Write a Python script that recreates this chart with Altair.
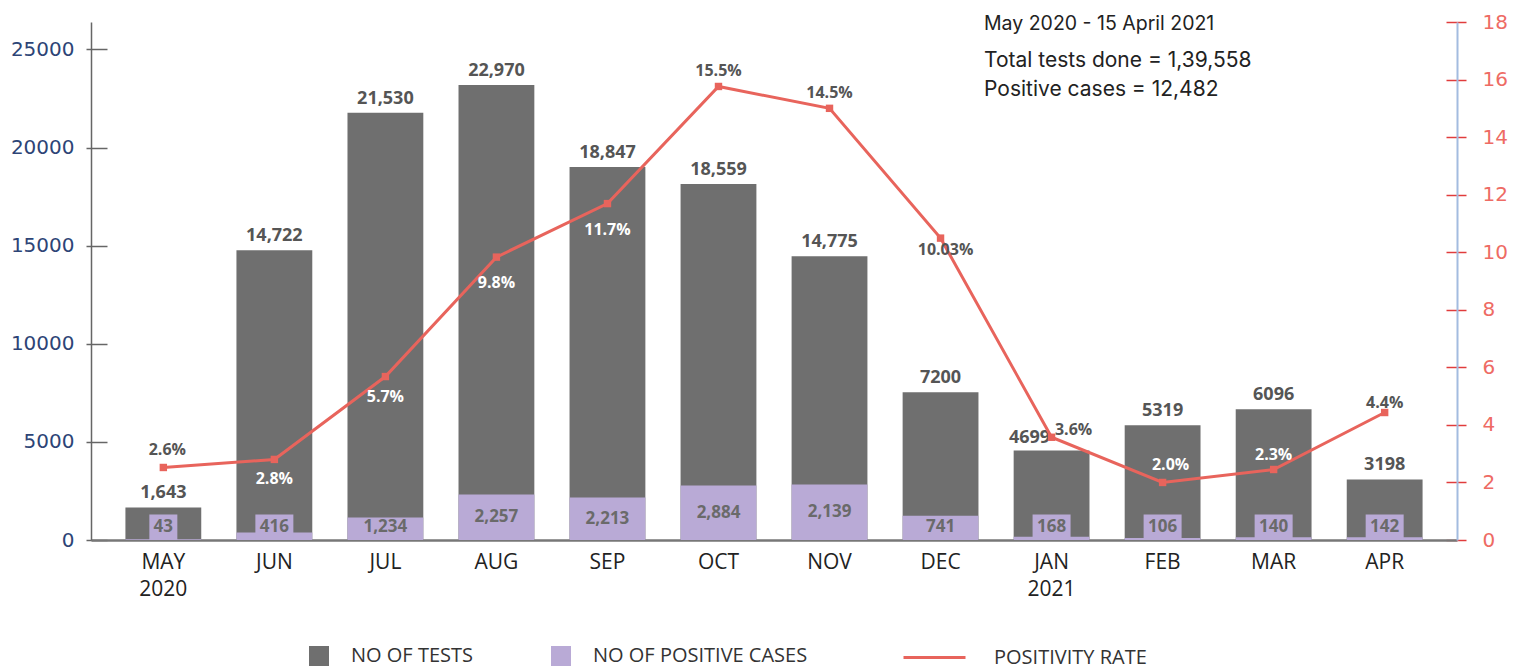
import altair as alt
import pandas as pd

# ---------------- data ----------------
MONTHS = ["MAY 2020", "JUN", "JUL", "AUG", "SEP", "OCT", "NOV", "DEC",
          "JAN 2021", "FEB", "MAR", "APR"]
TESTS = [1658, 14770, 21776, 23189, 19005, 18138, 14464, 7526, 4566, 5842, 6658, 3087]
TESTS_LABEL = ["1,643", "14,722", "21,530", "22,970", "18,847", "18,559",
               "14,775", "7200", "4699", "5319", "6096", "3198"]
POSITIVE = [43, 383, 1148, 2321, 2168, 2781, 2832, 1230, 168, 106, 140, 142]
POSITIVE_LABEL = ["43", "416", "1,234", "2,257", "2,213", "2,884", "2,139",
                  "741", "168", "106", "140", "142"]
RATE = [2.52, 2.80, 5.68, 9.83, 11.69, 15.76, 15.0, 10.49, 3.57, 2.0, 2.45, 4.43]
RATE_LABEL = ["2.6%", "2.8%", "5.7%", "9.8%", "11.7%", "15.5%", "14.5%",
              "10.03%", "3.6%", "2.0%", "2.3%", "4.4%"]
LEFT_TICKS = [0, 5000, 10000, 15000, 20000, 25000]
RIGHT_TICKS = [0, 2, 4, 6, 8, 10, 12, 14, 16, 18]
SERIES = ["NO OF TESTS", "NO OF POSITIVE CASES", "POSITIVITY RATE"]
ANNOT = ["May 2020 - 15 April 2021", "Total tests done = 1,39,558",
         "Positive cases = 12,482"]

df = pd.DataFrame({
    "month": MONTHS, "tests": TESTS, "tests_label": TESTS_LABEL,
    "pos": POSITIVE, "pos_label": POSITIVE_LABEL,
    "rate": RATE, "rate_label": RATE_LABEL,
})

# ---------------- style ----------------
W, H = 1366, 518
LEFT_MAX = 26400
RIGHT_MAX = 18
GRAY = "#6f6f6f"
PURPLE = "#b9aad6"
RED = "#e8645c"
FONT = "Open Sans"
AXFONT = "DejaVu Sans"

left_scale = alt.Scale(domain=[0, LEFT_MAX], nice=False, zero=True)
right_scale = alt.Scale(domain=[0, RIGHT_MAX], nice=False, zero=True)
band = alt.Scale(paddingInner=0.317, paddingOuter=0.31)

X_AXIS = alt.Axis(labelExpr="split(datum.label, ' ')", labelAngle=0,
                  labelFont=FONT, labelFontSize=21, labelColor="#222",
                  labelLineHeight=27, labelPadding=11, ticks=False,
                  domainColor="#777", domainWidth=2.5, title=None)
LEFT_AXIS = alt.Axis(values=LEFT_TICKS, format="d", orient="left", title=None,
                     labelFont=AXFONT, labelFontSize=20, labelColor="#2d4476",
                     labelPadding=12, tickSize=5, tickColor="#666",
                     tickWidth=1.5, domainColor="#666", domainWidth=1.5,
                     grid=True, gridDash=[16, 3000], gridColor="#666",
                     gridWidth=1.5)
RIGHT_AXIS = alt.Axis(values=RIGHT_TICKS, orient="right", title=None,
                      labelFont=AXFONT, labelFontSize=20, labelColor="#ee6b64",
                      labelPadding=16, tickSize=9, tickColor="#e03c3c",
                      tickWidth=1.5, domainColor="#a3bce0", domainWidth=2,
                      grid=True, gridDash=[11, 3000], gridColor="#e03c3c",
                      gridWidth=1.5)


def X():
    return alt.X("month:N", sort=MONTHS, scale=band, axis=X_AXIS, title=None)


def YL(field):
    return alt.Y(field, type="quantitative", scale=left_scale, axis=LEFT_AXIS, title=None)


def YR(field):
    return alt.Y(field, type="quantitative", scale=right_scale, axis=RIGHT_AXIS, title=None)


color_scale = alt.Scale(domain=SERIES[:2], range=[GRAY, PURPLE])
color_legend = alt.Legend(title=None, orient="none", legendX=218, legendY=624,
                          direction="horizontal", symbolType="square",
                          symbolSize=400, symbolStrokeWidth=0, symbolOpacity=1,
                          labelFont=FONT, labelFontSize=20, labelColor="#333",
                          labelOffset=22, columnPadding=78, labelLimit=0)

base = alt.Chart(df)

tests_bar = base.transform_calculate(series=f"'{SERIES[0]}'").mark_bar().encode(
    x=X(), y=YL("tests"),
    color=alt.Color("series:N", scale=color_scale, legend=color_legend),
)

pos_bar = base.transform_calculate(series=f"'{SERIES[1]}'").mark_bar().encode(
    x=X(), y=YL("pos"),
    color=alt.Color("series:N", scale=color_scale, legend=color_legend),
)

# label backgrounds for the values too small to hold their label
pos_box = base.transform_filter("datum.pos < 1000").transform_calculate(
    box_top="1300", box_w="length(datum.pos_label) * 10 + 8"
).mark_bar(color=PURPLE).encode(
    x=X(), y=YL("box_top"),
    size=alt.Size("box_w:Q", scale=None, legend=None),
)

pos_text = base.transform_calculate(
    ly="max(datum.pos / 2, 650)"
).mark_text(font=FONT, fontSize=17, fontWeight="bold", color="#6a6a6a",
            baseline="middle").encode(
    x=X(), y=YL("ly"), text="pos_label:N",
)

tests_text_main = base.transform_filter(
    alt.FieldOneOfPredicate(field="month", oneOf=[m for m in MONTHS if m != "JAN 2021"])
).mark_text(font=FONT, fontSize=18, fontWeight="bold", color="#555",
            baseline="bottom", dy=-5).encode(
    x=X(), y=YL("tests"), text="tests_label:N")

tests_text_jan = base.transform_filter(
    alt.FieldEqualPredicate(field="month", equal="JAN 2021")
).mark_text(font=FONT, fontSize=18, fontWeight="bold", color="#555",
            baseline="bottom", dy=-3, dx=-22).encode(
    x=X(), y=YL("tests"), text="tests_label:N")

annot1 = alt.Chart(pd.DataFrame({"t": [ANNOT[0]]})).mark_text(
    align="left", baseline="alphabetic", font="Inter", fontSize=19.5, color="#222"
).encode(x=alt.value(893), y=alt.value(8), text="t:N")

annot2 = alt.Chart(pd.DataFrame({"t": ["\n".join(ANNOT[1:])]})).mark_text(
    align="left", baseline="alphabetic", font="Inter", fontSize=21, color="#222",
    lineBreak="\n", lineHeight=29
).encode(x=alt.value(893), y=alt.value(45), text="t:N")

left = alt.layer(tests_bar, pos_bar, pos_box, pos_text, tests_text_main,
                 tests_text_jan, annot1, annot2)

# ---------------- right scale: positivity rate ----------------
line = base.transform_calculate(series=f"'{SERIES[2]}'").mark_line(strokeWidth=3).encode(
    x=X(), y=YR("rate"),
    color=alt.Color("series:N", scale=alt.Scale(domain=[SERIES[2]], range=[RED]),
                    legend=alt.Legend(title=None, orient="none", legendX=811,
                                      legendY=603, symbolType="stroke",
                                      symbolSize=3844, symbolStrokeWidth=3,
                                      labelFont=FONT, labelFontSize=20,
                                      labelColor="#333", labelOffset=27,
                                      labelLimit=0)),
)

points = base.mark_square(size=55, color=RED, opacity=1).encode(
    x=X(), y=YR("rate"))


def rate_text(months, color, dx=0, dy=0):
    return base.transform_filter(
        alt.FieldOneOfPredicate(field="month", oneOf=months)
    ).mark_text(font=FONT, fontSize=16, fontWeight="bold", color=color,
                baseline="middle", dx=dx, dy=dy).encode(
        x=X(), y=YR("rate"), text="rate_label:N")


rate_layers = [
    rate_text(["MAY 2020"], "#555", dx=4, dy=-17),
    rate_text(["OCT", "NOV"], "#555", dx=0, dy=-15),
    rate_text(["APR"], "#555", dx=0, dy=-10),
    rate_text(["JUN", "JUL"], "white", dx=0, dy=20),
    rate_text(["AUG", "SEP"], "white", dx=0, dy=26),
    rate_text(["DEC"], "#555", dx=5, dy=12),
    rate_text(["JAN 2021"], "#555", dx=22, dy=-7),
    rate_text(["FEB"], "white", dx=8, dy=-17),
    rate_text(["MAR"], "white", dx=0, dy=-14),
]

right = alt.layer(line, points, *rate_layers)

chart = alt.layer(left, right).resolve_scale(
    y="independent", color="independent"
).properties(
    width=W, height=H,
    padding={"left": 2, "top": 4, "right": 0, "bottom": 0},
).configure_view(stroke=None)

chart.save("out.html", embed_options={"renderer": "svg", "actions": False})
